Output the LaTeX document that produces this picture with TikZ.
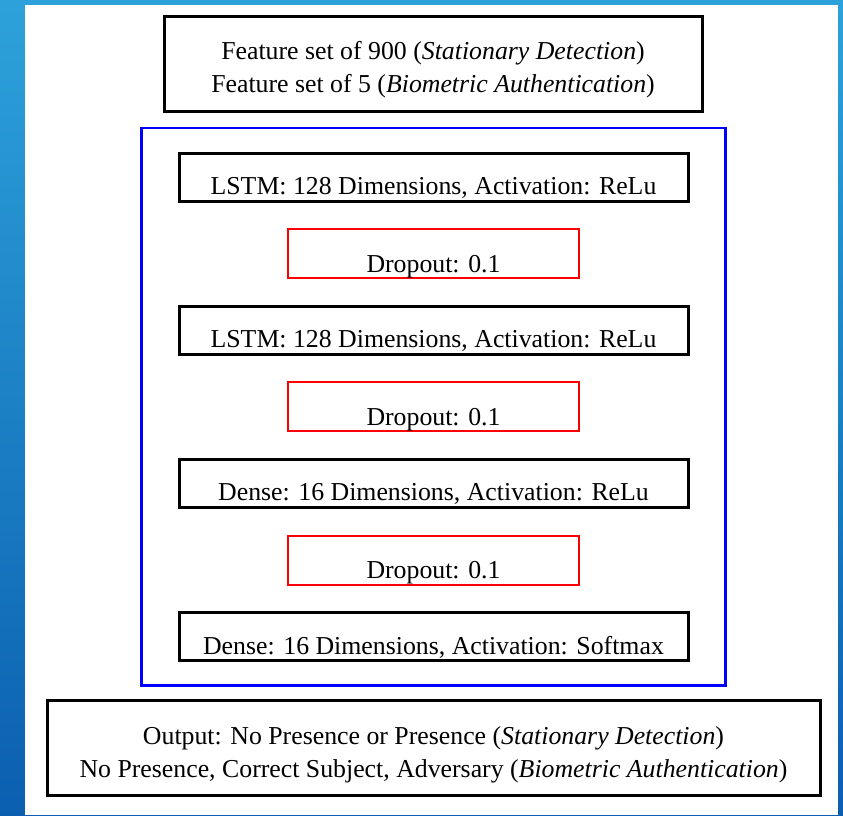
\documentclass[tikz,border=0pt]{standalone}
\usepackage{fontspec}
\setmainfont{Liberation Serif}
\usetikzlibrary{positioning,fit}
\definecolor{wallTop}{HTML}{2DA2DA}
\definecolor{wallBot}{HTML}{0B5FB0}

\begin{document}
\begin{tikzpicture}[
  x=1pt, y=1pt,
  font=\fontsize{25.8}{33}\selectfont,
  io/.style={draw, line width=3pt, align=center, inner sep=0pt, minimum height=95pt, text height=58pt, text depth=0pt},
  layer/.style={draw, line width=3pt, inner sep=0pt, minimum width=509pt, minimum height=48pt, text height=40pt, text depth=5pt},
  drop/.style={draw=red, line width=2pt, inner sep=0pt, minimum width=291pt, minimum height=49pt, text height=42pt, text depth=5pt},
  net/.style={draw=blue, line width=2.5pt, inner xsep=36pt, inner ysep=23.5pt},
  node distance=25.6pt]
% backdrop
\shade[top color=wallTop, bottom color=wallBot] (0,0) rectangle (843,-815);
\fill[white] (25,-5) rectangle (838,-815);
\useasboundingbox (0,0) rectangle (843,-815);
% input and layers
\node[io, minimum width=538pt] (feat) at (433,-63.5) {Feature set of 900 (\textit{Stationary Detection})\\Feature set of 5 (\textit{Biometric Authentication})};
\node[layer] (lstmA) at (433.5,-177) {LSTM: 128 Dimensions, Activation: ReLu};
\node[drop, below=of lstmA] (dropA) {Dropout: 0.1};
\node[layer, below=of dropA] (lstmB) {LSTM: 128 Dimensions, Activation: ReLu};
\node[drop, below=of lstmB] (dropB) {Dropout: 0.1};
\node[layer, below=of dropB] (denseA) {Dense: 16 Dimensions, Activation: ReLu};
\node[drop, below=of denseA] (dropC) {Dropout: 0.1};
\node[layer, below=of dropC] (denseB) {Dense: 16 Dimensions, Activation: Softmax};
\node[net, fit=(lstmA) (denseB)] (model) {};
\node[io, minimum width=773pt] (out) at (433.5,-748) {Output: No Presence or Presence (\textit{Stationary Detection})\\No Presence, Correct Subject, Adversary (\textit{Biometric Authentication})};
\end{tikzpicture}
\end{document}
